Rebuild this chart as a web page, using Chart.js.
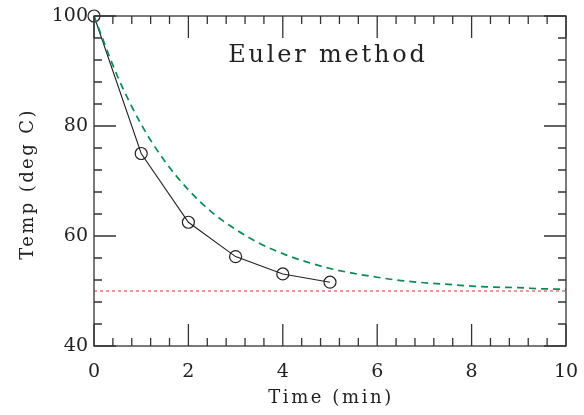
<!DOCTYPE html>
<html>
<head>
<meta charset="utf-8">
<script src="https://cdn.jsdelivr.net/npm/chart.js@4.4.1/dist/chart.umd.min.js"></script>
<style>
html,body{margin:0;padding:0;background:#fff;}
#wrap{width:584px;height:415px;position:relative;}
</style>
</head>
<body>
<div id="wrap"><canvas id="c" width="584" height="415"></canvas></div>
<script>
// Data
const eulerTimes = [0, 1, 2, 3, 4, 5];
const eulerTemps = [100, 75, 62.5, 56.25, 53.1, 51.6];
const exactTimes = [0, 0.5, 1, 1.5, 2, 2.5, 3, 3.5, 4, 4.5, 5, 5.5, 6, 6.5, 7, 7.5, 8, 8.5, 9, 9.5, 10];
const exactTemps = [100, 89.0, 80.3, 73.6, 68.4, 64.3, 61.2, 58.7, 56.8, 55.3, 54.1, 53.2, 52.5, 51.9, 51.5, 51.2, 50.9, 50.7, 50.6, 50.4, 50.3];
const ambientTimes = [0, 10];
const ambientTemps = [50, 50];
const xTickLabels = [0, 2, 4, 6, 8, 10];
const yTickLabels = [40, 60, 80, 100];
const titleText = "Euler method";
const xTitle = "Time (min)";
const yTitle = "Temp (deg C)";

const FONT = "'DejaVu Serif', 'Liberation Serif', serif";
const AX = '#333333';

function pts(xs, ys){ return xs.map((x,i)=>({x:x, y:ys[i]})); }

const frame = {
  id: 'frame',
  afterDatasetsDraw(chart){
    const {ctx, chartArea:a, scales:{x, y}} = chart;
    ctx.save();
    ctx.strokeStyle = AX;
    ctx.lineWidth = 1.3;
    ctx.strokeRect(a.left, a.top, a.right - a.left, a.bottom - a.top);
    ctx.beginPath();
    for (let v = 0; v <= 10.001; v += 0.4) {
      const px = x.getPixelForValue(v);
      const major = Math.abs(v/2 - Math.round(v/2)) < 1e-6;
      const L = major ? 22 : 8;
      ctx.moveTo(px, a.bottom); ctx.lineTo(px, a.bottom - L);
      ctx.moveTo(px, a.top); ctx.lineTo(px, a.top + L);
    }
    for (let v = 40; v <= 100.001; v += 4) {
      const py = y.getPixelForValue(v);
      const major = Math.abs(v/20 - Math.round(v/20)) < 1e-6;
      const L = major ? 22 : 8;
      ctx.moveTo(a.left, py); ctx.lineTo(a.left + L, py);
      ctx.moveTo(a.right, py); ctx.lineTo(a.right - L, py);
    }
    ctx.stroke();
    ctx.fillStyle = '#222';
    ctx.textAlign = 'center';
    ctx.textBaseline = 'middle';
    // plot title inside the frame
    ctx.font = "24px " + FONT;
    ctx.letterSpacing = '2.8px';
    ctx.fillText(titleText, 328, 56);
    // axis titles
    ctx.font = "18px " + FONT;
    ctx.letterSpacing = '2.6px';
    ctx.fillText(xTitle, 331, 398);
    ctx.translate(28, 184);
    ctx.rotate(-Math.PI/2);
    ctx.letterSpacing = '2.4px';
    ctx.fillText(yTitle, 0, 0);
    ctx.restore();
  }
};

new Chart(document.getElementById('c'), {
  type: 'line',
  data: {
    datasets: [
      {
        data: pts(ambientTimes, ambientTemps),
        borderColor: '#e03030', borderWidth: 1, borderDash: [3,3],
        pointRadius: 0, fill: false
      },
      {
        data: pts(exactTimes, exactTemps),
        borderColor: '#0b8a55', borderWidth: 1.7, borderDash: [7,5],
        pointRadius: 0, fill: false, cubicInterpolationMode: 'monotone'
      },
      {
        data: pts(eulerTimes, eulerTemps),
        borderColor: '#222', borderWidth: 1.1,
        pointRadius: 6, pointBorderWidth: 1.2, pointBorderColor: '#222',
        pointBackgroundColor: 'rgba(0,0,0,0)', fill: false, tension: 0, clip: false
      }
    ]
  },
  options: {
    responsive: false, animation: false, devicePixelRatio: 1,
    layout: { padding: { top: 16, right: 18, left: 0, bottom: 0 } },
    plugins: { legend: {display:false}, tooltip: {enabled:false}, title: {display:false} },
    scales: {
      x: {
        type: 'linear', min: 0, max: 10,
        afterBuildTicks(s){ s.ticks = xTickLabels.map(v=>({value:v})); },
        afterFit(s){ s.height = 69; s.paddingLeft = 0; s.paddingRight = 0; },
        grid: { display: false, drawTicks: false },
        border: { display: false },
        ticks: { color: '#222', padding: 15, font: { family: FONT, size: 19 }, maxRotation: 0 },
        title: { display: false }
      },
      y: {
        type: 'linear', min: 40, max: 100,
        afterBuildTicks(s){ s.ticks = yTickLabels.map(v=>({value:v})); },
        afterFit(s){ s.width = 94; s.paddingTop = 0; s.paddingBottom = 0; },
        grid: { display: false, drawTicks: false },
        border: { display: false },
        ticks: { color: '#222', padding: 6, font: { family: FONT, size: 19 } },
        title: { display: false }
      }
    }
  },
  plugins: [frame]
});
</script>
</body>
</html>
